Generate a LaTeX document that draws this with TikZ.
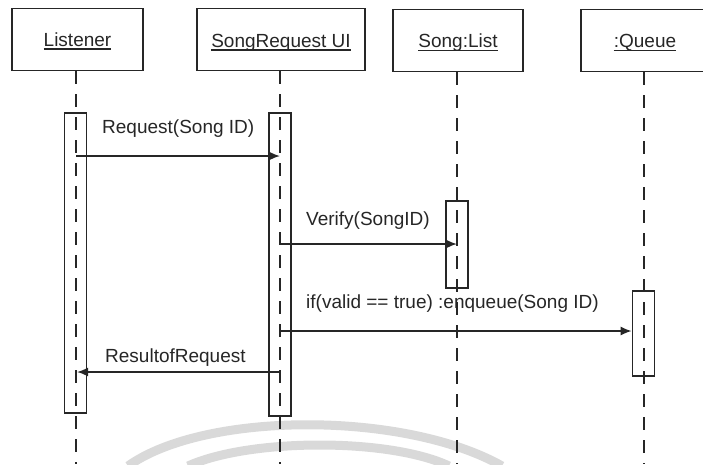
\documentclass[tikz,border=0pt]{standalone}
\usepackage{fontspec}
\setmainfont{Liberation Sans}
\usetikzlibrary{arrows.meta}
\definecolor{ink}{HTML}{262626}
\definecolor{faintgray}{HTML}{D9D9D9}
\begin{document}
\begin{tikzpicture}[x=1pt,y=-1pt,
  objbox/.style={draw=ink, line width=1.8pt, rectangle, inner sep=0pt,
    minimum height=62pt},
  actbox/.style={draw=ink, line width=1.6pt, rectangle, inner sep=0pt,
    minimum width=22pt},
  lifeline/.style={draw=ink, line width=1.7pt, dash pattern=on 13pt off 10pt},
  title/.style={anchor=base, inner sep=0pt, text=ink,
    font=\fontsize{19pt}{22pt}\selectfont},
  msglabel/.style={anchor=base west, inner sep=0pt, text=ink,
    font=\fontsize{19pt}{22pt}\selectfont},
  uline/.style={draw=ink, line width=1.2pt},
  msg/.style={draw=ink, line width=1.7pt, -{Latex[length=11pt,width=9pt]}},
]
\useasboundingbox (0,0) rectangle (703,464);

% faint arcs near the bottom edge
\draw[faintgray, line width=9pt] (128,466) .. controls (205,411) and (405,411) .. (502,466);
\draw[faintgray, line width=9pt] (188,466) .. controls (250,438) and (390,438) .. (449,466);

% object boxes
\node[objbox, minimum width=131pt] (listener) at (77.5,39.5) {};
\node[objbox, minimum width=168pt] (songui)   at (281,39.5) {};
\node[objbox, minimum width=130pt] (songlist) at (458,40.5) {};
\node[objbox, minimum width=128pt] (queue)    at (645,40.5) {};

% object names, underlined
\node[title] (tlistener) at (77.5,46) {Listener};
\node[title] (tsongui)   at (281,47) {SongRequest UI};
\node[title] (tsonglist) at (458,47.5) {Song:List};
\node[title] (tqueue)    at (645,47.5) {:Queue};
\foreach \t in {tlistener,tsongui,tsonglist,tqueue}
  \draw[uline] ([yshift=-3pt]\t.base west) -- ([yshift=-3pt]\t.base east);

% lifelines
\coordinate (endlistener) at (76,464);
\coordinate (endsongui)   at (280,464);
\coordinate (endsonglist) at (457,464);
\coordinate (endqueue)    at (644,464);
\draw[lifeline] (listener.south -| endlistener) -- (endlistener);
\draw[lifeline] (songui.south -| endsongui) -- (endsongui);
\draw[lifeline] (songlist.south -| endsonglist) -- (endsonglist);
\draw[lifeline] (queue.south -| endqueue) -- (endqueue);

% activation bars
\node[actbox, minimum height=300pt] (alistener) at (75.5,263) {};
\node[actbox, minimum height=303pt] (asongui)   at (280,264.5) {};
\node[actbox, minimum height=87pt]  (asonglist) at (457,244.5) {};
\node[actbox, minimum height=85pt]  (aqueue)    at (643.5,333.5) {};

% messages
\coordinate (m1s) at (76,156);
\coordinate (m1e) at (280,156);
\coordinate (m2s) at (280,244);
\coordinate (m2e) at (457,244);
\coordinate (m3s) at (280,331);
\coordinate (m4s) at (280,372);
\coordinate (m4e) at (77,372);

\draw[msg] (m1s) -- (m1e);
\draw[msg] (m2s) -- (m2e);
\draw[msg] (m3s) -- (m3s -| aqueue.west);
\draw[msg] (m4s) -- (m4e);

\node[msglabel] (l1) at (102,133) {Request(Song ID)};
\node[msglabel] (l2) at (306,225) {Verify(SongID)};
\node[msglabel] (l3) at (306,308) {if(valid == true) :enqueue(Song ID)};
\node[msglabel] (l4) at (105,362) {ResultofRequest};
\end{tikzpicture}
\end{document}
